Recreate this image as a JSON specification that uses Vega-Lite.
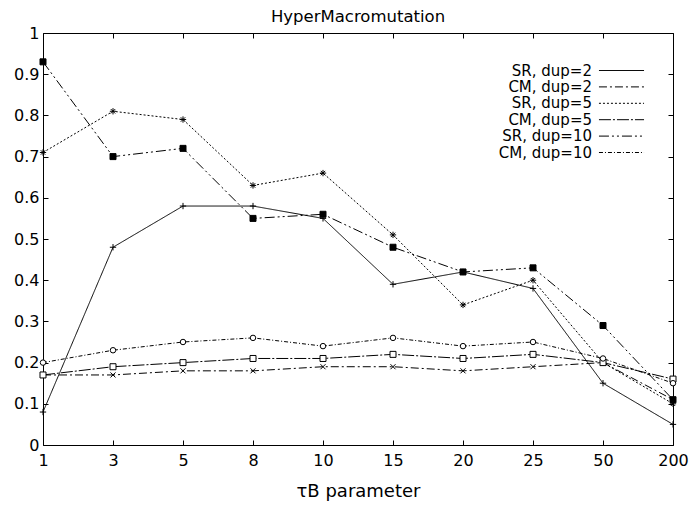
{
  "$schema": "https://vega.github.io/schema/vega-lite/v6.json",
  "width": 630,
  "height": 412,
  "autosize": "none",
  "padding": {"left": 43, "top": 33, "right": 17, "bottom": 66},
  "title": {"text": "HyperMacromutation", "fontSize": 16.5, "fontWeight": "normal", "font": "DejaVu Sans", "frame": "group", "baseline": "alphabetic", "offset": 3, "dy": 16, "color": "black"},
  "config": {
    "font": "DejaVu Sans",
    "view": {"stroke": "black", "strokeWidth": 1},
    "axis": {"grid": false, "domainColor": "black", "tickColor": "black", "labelColor": "black", "titleColor": "black", "labelFont": "DejaVu Sans", "titleFont": "DejaVu Sans", "labelFontSize": 16, "titleFontWeight": "normal"},
    "legend": {"labelFont": "DejaVu Sans"}
  },
  "data": {"values": [
    {"tau": "1", "series": "SR, dup=2", "value": 0.08},
    {"tau": "3", "series": "SR, dup=2", "value": 0.48},
    {"tau": "5", "series": "SR, dup=2", "value": 0.58},
    {"tau": "8", "series": "SR, dup=2", "value": 0.58},
    {"tau": "10", "series": "SR, dup=2", "value": 0.55},
    {"tau": "15", "series": "SR, dup=2", "value": 0.39},
    {"tau": "20", "series": "SR, dup=2", "value": 0.42},
    {"tau": "25", "series": "SR, dup=2", "value": 0.38},
    {"tau": "50", "series": "SR, dup=2", "value": 0.15},
    {"tau": "200", "series": "SR, dup=2", "value": 0.05},
    {"tau": "1", "series": "CM, dup=2", "value": 0.17},
    {"tau": "3", "series": "CM, dup=2", "value": 0.17},
    {"tau": "5", "series": "CM, dup=2", "value": 0.18},
    {"tau": "8", "series": "CM, dup=2", "value": 0.18},
    {"tau": "10", "series": "CM, dup=2", "value": 0.19},
    {"tau": "15", "series": "CM, dup=2", "value": 0.19},
    {"tau": "20", "series": "CM, dup=2", "value": 0.18},
    {"tau": "25", "series": "CM, dup=2", "value": 0.19},
    {"tau": "50", "series": "CM, dup=2", "value": 0.20},
    {"tau": "200", "series": "CM, dup=2", "value": 0.11},
    {"tau": "1", "series": "SR, dup=5", "value": 0.71},
    {"tau": "3", "series": "SR, dup=5", "value": 0.81},
    {"tau": "5", "series": "SR, dup=5", "value": 0.79},
    {"tau": "8", "series": "SR, dup=5", "value": 0.63},
    {"tau": "10", "series": "SR, dup=5", "value": 0.66},
    {"tau": "15", "series": "SR, dup=5", "value": 0.51},
    {"tau": "20", "series": "SR, dup=5", "value": 0.34},
    {"tau": "25", "series": "SR, dup=5", "value": 0.40},
    {"tau": "50", "series": "SR, dup=5", "value": 0.20},
    {"tau": "200", "series": "SR, dup=5", "value": 0.10},
    {"tau": "1", "series": "CM, dup=5", "value": 0.17},
    {"tau": "3", "series": "CM, dup=5", "value": 0.19},
    {"tau": "5", "series": "CM, dup=5", "value": 0.20},
    {"tau": "8", "series": "CM, dup=5", "value": 0.21},
    {"tau": "10", "series": "CM, dup=5", "value": 0.21},
    {"tau": "15", "series": "CM, dup=5", "value": 0.22},
    {"tau": "20", "series": "CM, dup=5", "value": 0.21},
    {"tau": "25", "series": "CM, dup=5", "value": 0.22},
    {"tau": "50", "series": "CM, dup=5", "value": 0.20},
    {"tau": "200", "series": "CM, dup=5", "value": 0.16},
    {"tau": "1", "series": "SR, dup=10", "value": 0.93},
    {"tau": "3", "series": "SR, dup=10", "value": 0.70},
    {"tau": "5", "series": "SR, dup=10", "value": 0.72},
    {"tau": "8", "series": "SR, dup=10", "value": 0.55},
    {"tau": "10", "series": "SR, dup=10", "value": 0.56},
    {"tau": "15", "series": "SR, dup=10", "value": 0.48},
    {"tau": "20", "series": "SR, dup=10", "value": 0.42},
    {"tau": "25", "series": "SR, dup=10", "value": 0.43},
    {"tau": "50", "series": "SR, dup=10", "value": 0.29},
    {"tau": "200", "series": "SR, dup=10", "value": 0.11},
    {"tau": "1", "series": "CM, dup=10", "value": 0.20},
    {"tau": "3", "series": "CM, dup=10", "value": 0.23},
    {"tau": "5", "series": "CM, dup=10", "value": 0.25},
    {"tau": "8", "series": "CM, dup=10", "value": 0.26},
    {"tau": "10", "series": "CM, dup=10", "value": 0.24},
    {"tau": "15", "series": "CM, dup=10", "value": 0.26},
    {"tau": "20", "series": "CM, dup=10", "value": 0.24},
    {"tau": "25", "series": "CM, dup=10", "value": 0.25},
    {"tau": "50", "series": "CM, dup=10", "value": 0.21},
    {"tau": "200", "series": "CM, dup=10", "value": 0.15}
  ]},
  "encoding": {
    "x": {"field": "tau", "type": "ordinal", "sort": ["1","3","5","8","10","15","20","25","50","200"],
          "scale": {"type": "point", "padding": 0}, "axis": null},
    "y": {"field": "value", "type": "quantitative", "scale": {"domain": [0, 1], "nice": false}, "axis": null}
  },
  "layer": [
    {
      "mark": {"type": "line", "color": "black", "strokeWidth": 1},
      "encoding": {
        "x": {"field": "tau", "type": "ordinal", "sort": ["1","3","5","8","10","15","20","25","50","200"],
              "scale": {"type": "point", "padding": 0},
              "axis": {"title": "τB parameter", "titleFontSize": 18, "titlePadding": 14, "labelAngle": 0, "tickSize": -5, "labelPadding": 12, "domain": false}},
        "y": {"field": "value", "type": "quantitative", "scale": {"domain": [0, 1], "nice": false},
              "axis": {"title": null, "values": [0,0.1,0.2,0.3,0.4,0.5,0.6,0.7,0.8,0.9,1], "format": "~g", "tickSize": -5, "labelPadding": 9, "domain": false}},
        "detail": {"field": "series"},
        "strokeDash": {"field": "series", "type": "nominal",
          "sort": ["SR, dup=2","CM, dup=2","SR, dup=5","CM, dup=5","SR, dup=10","CM, dup=10"],
          "scale": {"domain": ["SR, dup=2","CM, dup=2","SR, dup=5","CM, dup=5","SR, dup=10","CM, dup=10"],
                    "range": [[1,0],[8,3,2,3],[2,2],[12,2,2,2],[10,3,2,3,2,3],[4,2,1,2]]},
          "legend": {"title": null, "orient": "none", "legendX": 571, "legendY": 30, "symbolType": "M-4,0L4,0", "symbolSize": 127, "symbolStrokeColor": "black", "symbolStrokeWidth": 1, "labelAlign": "right", "labelOffset": -37, "labelFontSize": 15, "rowPadding": 0.4, "padding": 0, "labelColor": "black"}}
      }
    },
    {
      "transform": [{"filter": "datum.series === 'SR, dup=2'"}],
      "mark": {"type": "point", "shape": "M-1,0L1,0M0,-1L0,1", "filled": false, "stroke": "black", "strokeWidth": 1, "size": 40, "opacity": 1},
      "encoding": {
        "x": {"field": "tau", "type": "ordinal", "sort": ["1","3","5","8","10","15","20","25","50","200"],
              "axis": {"orient": "top", "labels": false, "title": null, "tickSize": -5, "domain": false}},
        "y": {"field": "value", "type": "quantitative",
              "axis": {"orient": "right", "labels": false, "title": null, "values": [0,0.1,0.2,0.3,0.4,0.5,0.6,0.7,0.8,0.9,1], "tickSize": -5, "domain": false}}
      }
    },
    {
      "transform": [{"filter": "datum.series === 'CM, dup=2'"}],
      "mark": {"type": "point", "shape": "M-0.8,-0.8L0.8,0.8M-0.8,0.8L0.8,-0.8", "filled": false, "stroke": "black", "strokeWidth": 1, "size": 40, "opacity": 1}
    },
    {
      "transform": [{"filter": "datum.series === 'SR, dup=5'"}],
      "mark": {"type": "point", "shape": "M-1,0L1,0M0,-1L0,1M-0.7,-0.7L0.7,0.7M-0.7,0.7L0.7,-0.7", "filled": false, "stroke": "black", "strokeWidth": 1, "size": 40, "opacity": 1}
    },
    {
      "transform": [{"filter": "datum.series === 'CM, dup=5'"}],
      "mark": {"type": "point", "shape": "square", "filled": true, "fill": "white", "stroke": "black", "strokeWidth": 1, "size": 36, "opacity": 1}
    },
    {
      "transform": [{"filter": "datum.series === 'SR, dup=10'"}],
      "mark": {"type": "point", "shape": "square", "filled": true, "fill": "black", "stroke": "black", "strokeWidth": 1, "size": 36, "opacity": 1}
    },
    {
      "transform": [{"filter": "datum.series === 'CM, dup=10'"}],
      "mark": {"type": "point", "shape": "circle", "filled": true, "fill": "white", "stroke": "black", "strokeWidth": 1, "size": 30, "opacity": 1}
    }
  ],
  "resolve": {"axis": {"x": "independent", "y": "independent"}}
}
